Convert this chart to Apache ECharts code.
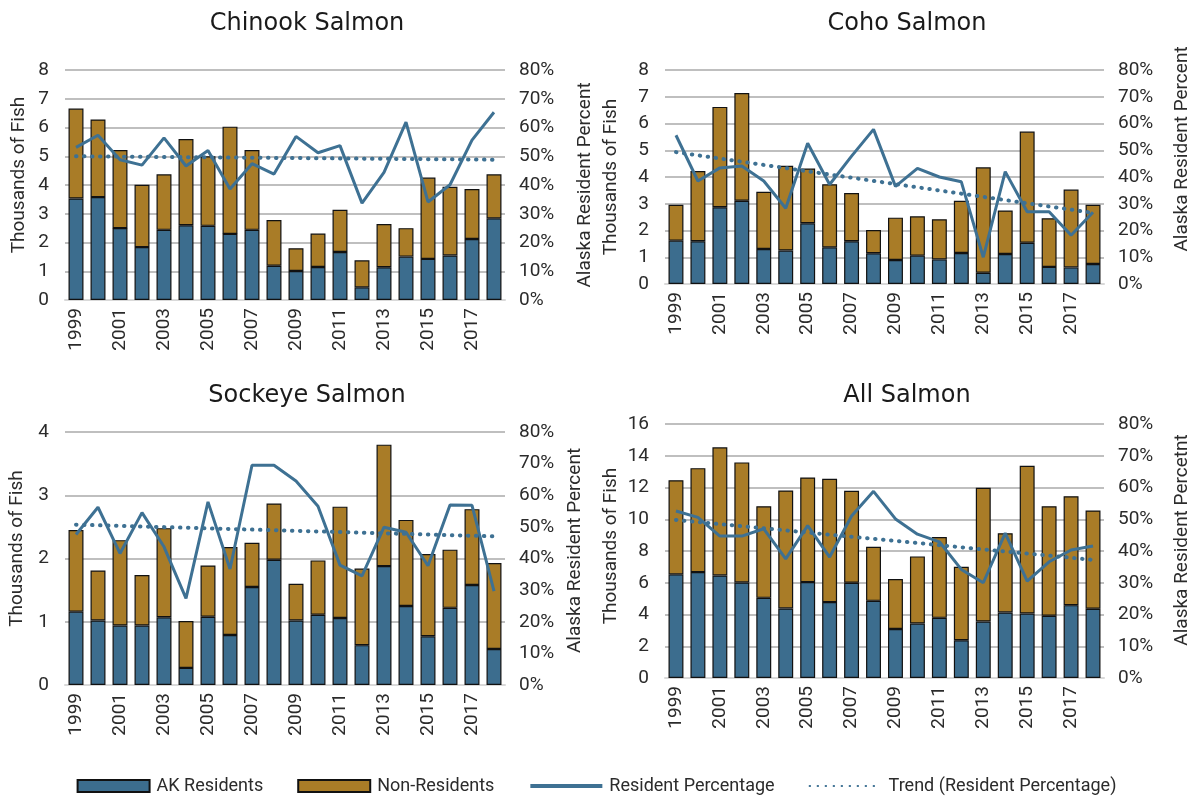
<!DOCTYPE html>
<html>
<head>
<meta charset="utf-8">
<script src="https://cdn.jsdelivr.net/npm/echarts@6/dist/echarts.min.js"></script>
<style>
html,body{margin:0;padding:0;background:#fff;}
#chart{width:1193px;height:802px;}
</style>
</head>
<body>
<div id="chart"></div>
<script>
const years = ['1999','2000','2001','2002','2003','2004','2005','2006','2007','2008','2009','2010','2011','2012','2013','2014','2015','2016','2017','2018'];

const chinookAK  = [3.53,3.58,2.50,1.84,2.44,2.60,2.58,2.30,2.44,1.19,1.01,1.15,1.67,0.44,1.14,1.51,1.43,1.55,2.12,2.84];
const chinookNon = [3.13,2.70,2.72,2.17,1.93,3.00,2.42,3.73,2.78,1.59,0.79,1.16,1.47,0.94,1.50,0.99,2.83,2.39,1.74,1.53];
const chinookPct = [53.1,57.3,48.8,46.9,56.4,46.6,52.0,38.6,47.4,43.8,56.9,51.2,53.7,33.7,44.4,61.9,34.1,40.1,55.6,65.3];
const chinookTrend = [50.0,null,null,null,null,null,null,null,null,null,null,null,null,null,null,null,null,null,null,48.8];

const cohoAK  = [1.62,1.60,2.87,3.11,1.31,1.25,2.27,1.37,1.60,1.15,0.90,1.06,0.92,1.16,0.42,1.12,1.54,0.64,0.62,0.75];
const cohoNon = [1.34,2.62,3.75,4.03,2.14,3.17,2.05,2.36,1.80,0.87,1.58,1.47,1.50,1.95,3.94,1.63,4.16,1.82,2.91,2.21];
const cohoPct = [55.6,38.5,43.4,44.1,38.5,28.3,52.6,37.2,47.8,57.8,36.5,43.2,40.0,38.2,10.0,42.0,27.0,27.0,18.2,26.8];
const cohoTrend = [49.3,null,null,null,null,null,null,null,null,null,null,null,null,null,null,null,null,null,null,26.6];

const sockeyeAK  = [1.16,1.02,0.94,0.94,1.07,0.27,1.08,0.79,1.55,1.98,1.02,1.11,1.06,0.63,1.88,1.25,0.77,1.22,1.58,0.57];
const sockeyeNon = [1.29,0.79,1.35,0.80,1.41,0.74,0.81,1.39,0.70,0.89,0.58,0.86,1.76,1.21,1.92,1.36,1.30,0.92,1.20,1.36];
const sockeyePct = [47.6,56.2,41.6,54.5,43.7,27.4,57.9,36.7,69.5,69.5,64.5,56.5,37.9,34.5,49.9,48.3,37.7,56.9,56.8,29.7];
const sockeyeTrend = [50.7,null,null,null,null,null,null,null,null,null,null,null,null,null,null,null,null,null,null,47.0];

const allAK  = [6.53,6.67,6.46,6.02,5.05,4.38,6.04,4.78,6.00,4.86,3.09,3.43,3.79,2.38,3.56,4.13,4.06,3.92,4.59,4.36];
const allNon = [5.93,6.55,8.07,7.56,5.77,7.43,6.59,7.77,5.79,3.41,3.14,4.23,5.09,4.63,8.42,4.99,9.31,6.90,6.86,6.19];
const allPct = [52.6,50.6,44.7,44.7,47.0,37.5,48.0,38.1,51.0,58.8,50.1,45.3,42.9,34.2,30.0,45.6,30.5,36.6,40.3,41.6];
const allTrend = [49.8,null,null,null,null,null,null,null,null,null,null,null,null,null,null,null,null,null,null,37.2];

const titles = ['Chinook Salmon','Coho Salmon','Sockeye Salmon','All Salmon'];
const leftNames = ['Thousands of Fish','Thousands of Fish','Thousands of Fish','Thousands of Fish'];
const rightNames = ['Alaska Resident Percent','Alaska Resident Percent','Alaska Resident Percent','Alaska Resident Percetnt'];
const leftMax = [8, 8, 4, 16];
const leftInterval = [1, 1, 1, 2];

const panels = [
  {ak: chinookAK, non: chinookNon, pct: chinookPct, trend: chinookTrend},
  {ak: cohoAK, non: cohoNon, pct: cohoPct, trend: cohoTrend},
  {ak: sockeyeAK, non: sockeyeNon, pct: sockeyePct, trend: sockeyeTrend},
  {ak: allAK, non: allNon, pct: allPct, trend: allTrend}
];

const FONT = "Roboto, sans-serif";
const BLUE = '#3c6d8e';
const GOLD = '#a97c27';
const LINE = '#3e7193';
const TXT = '#2b2b2b';

const grids = [
  {left: 65, top: 70, width: 440, height: 230},
  {left: 665, top: 70, width: 440, height: 214},
  {left: 65, top: 432, width: 440, height: 253},
  {left: 665, top: 424, width: 440, height: 254}
];
const titlePos = [{x: 302, y: 7}, {x: 902, y: 7}, {x: 302, y: 379}, {x: 902, y: 379}];
const leftNameGap = [36, 44, 38, 44];
const rightNameGap = [71, 69, 61, 69];
const leftNamePad = [[0,0,0,20],[0,0,0,0],[0,0,0,20],[0,0,0,10]];
const rightNamePad = [[0,0,0,0],[0,0,0,56],[0,0,0,16],[0,0,0,22]];

const option = {
  animation: false,
  backgroundColor: '#fff',
  title: titles.map((t, i) => ({
    text: t, left: titlePos[i].x, top: titlePos[i].y, textAlign: 'center',
    textStyle: {fontFamily: "'DejaVu Sans', sans-serif", fontSize: 24, fontWeight: 'normal', color: '#1a1a1a'}
  })),
  legend: {
    bottom: 2, left: 'center',
    itemWidth: 72, itemHeight: 12, itemGap: 34,
    textStyle: {fontFamily: FONT, fontSize: 18, color: TXT, padding: [0, 0, 0, 2]},
    data: [
      {name: 'AK Residents', icon: 'rect'},
      {name: 'Non-Residents', icon: 'rect'},
      {name: 'Resident Percentage', itemStyle: {opacity: 0}, lineStyle: {width: 4}},
      {name: 'Trend (Resident Percentage)', itemStyle: {opacity: 0}}
    ]
  },
  grid: grids,
  xAxis: grids.map((g, i) => ({
    type: 'category', gridIndex: i, data: years, boundaryGap: true,
    axisTick: {show: false},
    axisLine: {lineStyle: {color: '#d9d9d9', width: 2}},
    axisLabel: {interval: 1, rotate: 90, margin: 8, fontFamily: FONT, fontSize: 19, color: TXT}
  })),
  yAxis: [].concat(...grids.map((g, i) => ([
    {
      type: 'value', gridIndex: i, min: 0, max: leftMax[i], interval: leftInterval[i],
      name: leftNames[i], nameLocation: 'middle', nameGap: leftNameGap[i], nameRotate: 90,
      nameTextStyle: {fontFamily: FONT, fontSize: 19, color: TXT, padding: leftNamePad[i]},
      axisLine: {show: false}, axisTick: {show: false},
      axisLabel: {margin: 16, fontFamily: FONT, fontSize: 19, color: TXT},
      splitLine: {lineStyle: {color: '#bfbfbf', width: 2}}
    },
    {
      type: 'value', gridIndex: i, position: 'right', min: 0, max: 80, interval: 10,
      name: rightNames[i], nameLocation: 'middle', nameGap: rightNameGap[i], nameRotate: 90,
      nameTextStyle: {fontFamily: FONT, fontSize: 19, color: TXT, padding: rightNamePad[i]},
      axisLine: {show: false}, axisTick: {show: false},
      axisLabel: {margin: 14, fontFamily: FONT, fontSize: 19, color: TXT, formatter: '{value}%'},
      splitLine: {show: false}
    }
  ]))),
  series: [].concat(...panels.map((p, i) => ([
    {
      name: 'AK Residents', type: 'bar', stack: 's' + i, xAxisIndex: i, yAxisIndex: 2 * i,
      data: p.ak, barWidth: '68%',
      itemStyle: {color: BLUE, borderColor: '#111', borderWidth: 1.2}
    },
    {
      name: 'Non-Residents', type: 'bar', stack: 's' + i, xAxisIndex: i, yAxisIndex: 2 * i,
      data: p.non, barWidth: '68%',
      itemStyle: {color: GOLD, borderColor: '#111', borderWidth: 1.2}
    },
    {
      name: 'Resident Percentage', type: 'line', xAxisIndex: i, yAxisIndex: 2 * i + 1,
      data: p.pct, symbol: 'none', z: 5,
      lineStyle: {color: LINE, width: 3}, itemStyle: {color: LINE}
    },
    {
      name: 'Trend (Resident Percentage)', type: 'line', xAxisIndex: i, yAxisIndex: 2 * i + 1,
      data: p.trend, connectNulls: true, symbol: 'none', z: 4,
      lineStyle: {color: LINE, width: 4, type: [0.5, 7.5], cap: 'round'}, itemStyle: {color: LINE}
    }
  ])))
};

const chart = echarts.init(document.getElementById('chart'), null, {renderer: 'canvas'});
chart.setOption(option);
</script>
</body>
</html>
